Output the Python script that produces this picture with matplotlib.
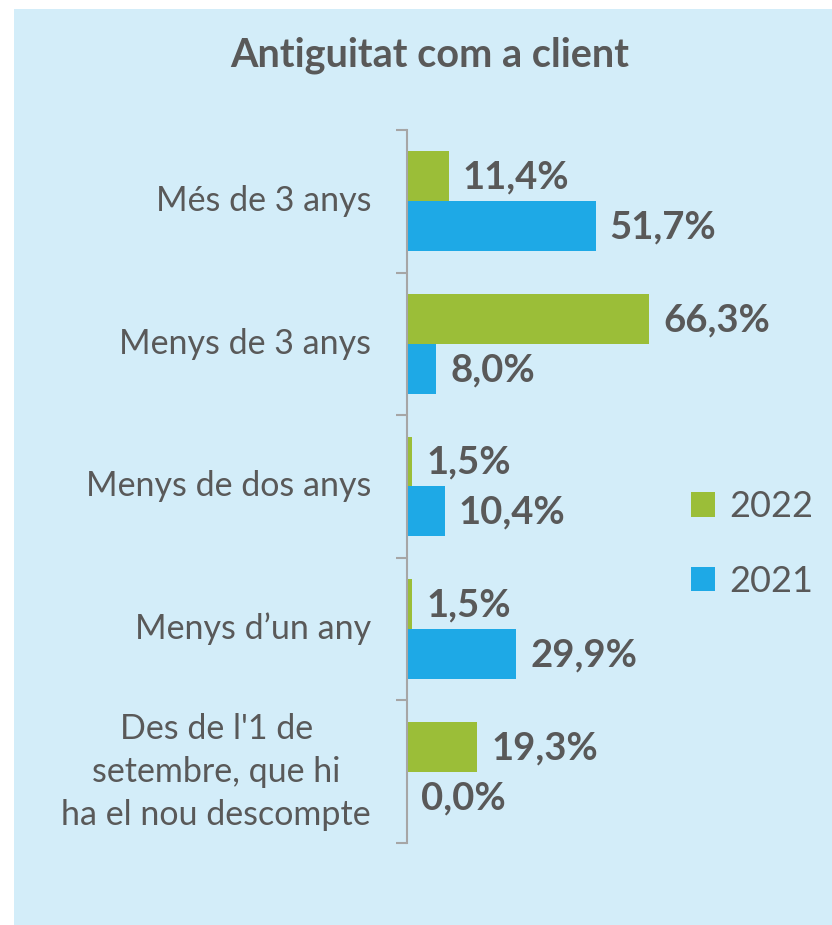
import matplotlib
matplotlib.use("Agg")
import matplotlib.pyplot as plt
from matplotlib.patches import Rectangle, Patch

plt.rcParams["font.family"] = ["Lato", "DejaVu Sans"]

categories = ["Més de 3 anys", "Menys de 3 anys", "Menys de dos anys",
              "Menys d\u2019un any", "Des de l'1 de\nsetembre, que hi\nha el nou descompte"]
vals_2022 = [11.4, 66.3, 1.5, 1.5, 19.3]
vals_2021 = [51.7, 8.0, 10.4, 29.9, 0.0]
series_labels = ["2022", "2021"]

green = "#9BBE38"
blue = "#1EA9E6"
txt = "#595959"
panel = "#D3EDF9"

W, H = 832, 925
fig = plt.figure(figsize=(W / 100, H / 100), dpi=100, facecolor="white")
fig.patches.append(Rectangle((14 / W, 0), 1 - 14 / W, 1 - 9 / H, transform=fig.transFigure,
                             facecolor=panel, edgecolor="none", zorder=-10))

ax_left, ax_top, ax_bot, ax_right = 407, 130, 843, 820
ax = fig.add_axes([ax_left / W, 1 - ax_bot / H, (ax_right - ax_left) / W, (ax_bot - ax_top) / H])
ax.set_facecolor("none")

px_per_pct = 3.65
ax.set_xlim(0, (ax_right - ax_left) / px_per_pct)
ax.set_ylim(len(categories) - 0.5, -0.5)

h = 50 / 142.6
y = list(range(len(categories)))
b1 = ax.barh([i - h / 2 for i in y], vals_2022, height=h, color=green, label=series_labels[0])
b2 = ax.barh([i + h / 2 for i in y], vals_2021, height=h, color=blue, label=series_labels[1])

for bars, vals in ((b1, vals_2022), (b2, vals_2021)):
    for bar, v in zip(bars, vals):
        ax.annotate(f"{v:.1f}%".replace(".", ","),
                    xy=(bar.get_width(), bar.get_y() + bar.get_height() / 2),
                    xytext=(10, -1), textcoords="offset points", ha="left", va="center",
                    fontsize=27.5, fontweight="bold", color=txt)

for s in ("top", "right", "bottom"):
    ax.spines[s].set_visible(False)
ax.spines["left"].set_color("#A6A6A6")
ax.spines["left"].set_linewidth(1.5)
ax.set_xticks([])
ax.set_yticks([i - 0.5 for i in range(len(categories) + 1)])
ax.set_yticklabels([])
ax.tick_params(axis="y", length=8, width=1.5, color="#A6A6A6", direction="out")

for i, c in enumerate(categories):
    ax.text(-36 / px_per_pct, i, c, ha="right", va="center", multialignment="center",
            fontsize=24.5, color=txt, linespacing=1.42)

fig.text(430 / W, 1 - 55 / H, "Antiguitat com a client", ha="center", va="center",
         fontsize=28.5, fontweight="bold", color=txt)

handles = [Patch(facecolor=green, label=series_labels[0]), Patch(facecolor=blue, label=series_labels[1])]
fig.legend(handles=handles, loc="center left", bbox_to_anchor=(658 / W, 1 - 544 / H),
           frameon=False, fontsize=26, labelcolor=txt, handlelength=0.67, handleheight=0.67,
           handletextpad=0.4, labelspacing=1.15)

fig.savefig("out.png", dpi=100, facecolor="white")
